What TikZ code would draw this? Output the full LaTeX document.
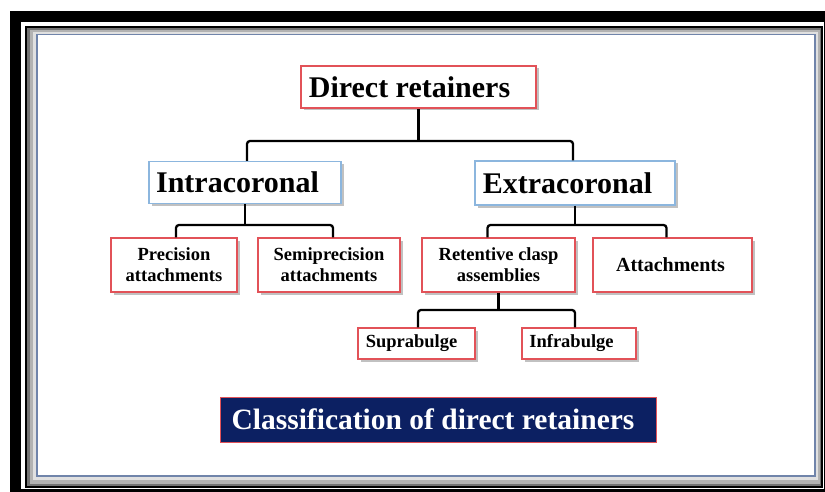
\documentclass[tikz,border=0pt]{standalone}
\usepackage{fontspec}
\setmainfont{Liberation Serif}
\usetikzlibrary{shadows,calc}
\definecolor{boxred}{RGB}{226,82,88}
\definecolor{boxblue}{RGB}{140,182,222}
\definecolor{navy}{RGB}{12,32,98}
\definecolor{frameblue}{RGB}{112,132,170}
\tikzset{
  box/.style={draw=boxred, line width=1.3pt, fill=white, inner sep=0pt, align=center,
    drop shadow={shadow xshift=2.5pt, shadow yshift=-2.5pt, fill=black!40, opacity=0.6}},
  bluebox/.style={box, draw=boxblue},
  bigtxt/.style={font=\bfseries\fontsize{30}{32}\selectfont},
  smalltxt/.style={font=\bfseries\fontsize{18.5}{21}\selectfont},
  conn/.style={draw=black, line width=2.3pt, rounded corners=3pt},
}
\newcommand{\lsh}[1]{\hspace*{#1pt}}
\begin{document}
\begin{tikzpicture}[x=1pt,y=-1pt]
\useasboundingbox (0,0) rectangle (825,492);
% frame
\fill[black] (10,11) rectangle (845,510);
\fill[white] (21,22) rectangle (823.5,489);
\draw[black, line width=2pt] (26,27) rectangle (822,487);
\fill[black!55] (27,28) rectangle (821,486);
\fill[black!30] (29.5,30) rectangle (819.5,483.5);
\fill[black!12] (32.5,32) rectangle (817.5,480);
\draw[frameblue, line width=1.6pt, fill=white] (37,34.5) rectangle (815,476);

% nodes
\node[box, bigtxt, minimum width=235pt, minimum height=42pt] (dr) at (418.5,87) {Direct retainers\lsh{18}};
\node[bluebox, bigtxt, minimum width=192pt, minimum height=42pt] (intra) at (245,182.5) {Intracoronal\lsh{15}};
\node[bluebox, bigtxt, minimum width=200pt, minimum height=44pt] (ext) at (575,183) {Extracoronal\lsh{15}};
\node[box, smalltxt, minimum width=126pt, minimum height=54pt] (prec) at (174,265) {Precision\\attachments};
\node[box, smalltxt, minimum width=142pt, minimum height=54pt] (semi) at (329,265) {Semiprecision\\attachments};
\node[box, smalltxt, minimum width=153pt, minimum height=54pt] (ret) at (498.5,265) {Retentive clasp\\assemblies};
\node[box, font=\bfseries\fontsize{20}{22}\selectfont, minimum width=159pt, minimum height=54pt] (att) at (672.5,265) {Attachments\lsh{4}};
\node[box, smalltxt, minimum width=117pt, minimum height=31pt] (supra) at (416.5,343.5) {\raisebox{-2pt}{Suprabulge}\lsh{10}};
\node[box, smalltxt, minimum width=114pt, minimum height=31pt] (infra) at (579,343.5) {\raisebox{-2pt}{Infrabulge}\lsh{15}};
\node[draw=boxred, line width=1pt, fill=navy, text=white, inner sep=0pt,
      font=\bfseries\fontsize{29.5}{31}\selectfont,
      minimum width=436pt, minimum height=45pt] (cls) at (438,419.5) {Classification of direct retainers\lsh{10}};

% connectors
\coordinate (j1) at (dr.south |- 0,141);
\coordinate (j2) at (intra.south |- 0,225);
\coordinate (j3) at (ext.south |- 0,225);
\coordinate (j4) at (ret.south |- 0,310);
\draw[conn] (dr.south) -- (j1);
\draw[conn] ([xshift=2pt]intra.north) |- (j1) -| ([xshift=-2pt]ext.north);
\draw[conn] (intra.south) -- (j2);
\draw[conn] ([xshift=2pt]prec.north) |- (j2) -| ([xshift=4pt]semi.north);
\draw[conn] (ext.south) -- (j3);
\draw[conn] ([xshift=-11pt]ret.north) |- (j3) -| ([xshift=-6pt]att.north);
\draw[conn] (ret.south) -- (j4);
\draw[conn] ([xshift=1.5pt]supra.north) |- (j4) -| ([xshift=-4pt]infra.north);
\end{tikzpicture}
\end{document}
